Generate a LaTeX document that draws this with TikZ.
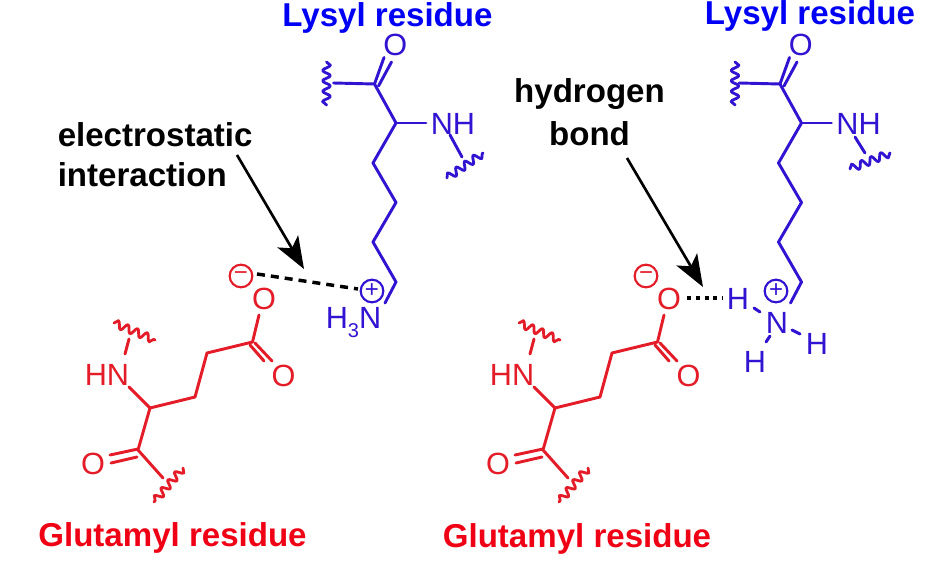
\documentclass[tikz,border=0pt]{standalone}
\usepackage{fontspec}
\setmainfont{Liberation Sans}
\usetikzlibrary{arrows.meta,decorations.pathmorphing}
\definecolor{titleblue}{RGB}{0,0,245}
\definecolor{molblue}{RGB}{48,20,210}
\definecolor{titlered}{RGB}{240,0,20}
\definecolor{molred}{RGB}{228,28,40}
\tikzset{
  title/.style={font=\fontsize{24.8pt}{30pt}\selectfont\bfseries,inner sep=0pt,anchor=center},
  caption/.style={font=\fontsize{24.8pt}{30pt}\selectfont\bfseries,inner sep=0pt,text=black},
  atom/.style={font=\fontsize{23pt}{27pt}\selectfont,inner sep=0pt},
  bond/.style={line width=2.2pt,line cap=round,line join=round},
  wave/.style={line width=2.1pt,line cap=round,line join=round,decorate,decoration={snake,segment length=7.8pt,amplitude=2.9pt}},
  charge/.style={circle,draw,line width=1.6pt,minimum size=17pt,inner sep=0pt,font=\fontsize{18pt}{18pt}\selectfont},
  pointer/.style={line width=2pt,black,-{Stealth[length=24pt,width=18pt,inset=6pt]}},
  contact/.style={line width=2.6pt,black}
}
\newcommand{\lysylchain}[1]{%
\begin{scope}[shift={(#1,0)},molblue]
  \node[atom,text=molblue] (O) at (395.3,44.5) {O};
  \node[atom,text=molblue] (NH) at (453,123.5) {NH};
  \coordinate (C) at (374.5,84);
  \coordinate (CA) at (396,123);
  \coordinate (CB) at (373,163);
  \coordinate (CG) at (396,202.5);
  \coordinate (CD) at (373,242);
  \coordinate (CE) at (396,282);
  \coordinate (NE) at (385,303);
  \coordinate (Cwave) at (333.5,83);
  \coordinate (Oa) at (384,57.5);
  \coordinate (Ob) at (391.5,62);
  \coordinate (Cb) at (378.5,86);
  \coordinate (NHa) at (426,123);
  \draw[bond] (Cwave) -- (C) -- (Oa);
  \draw[bond] (Cb) -- (Ob);
  \draw[bond] (C) -- (CA) -- (CB) -- (CG) -- (CD) -- (CE) -- (NE);
  \draw[bond] (CA) -- (NHa);
\end{scope}}
\newcommand{\glutamylchain}[1]{%
\begin{scope}[shift={(#1,0)},molred]
  \node[atom,text=molred] (OA) at (264,298.5) {O};
  \node[atom,text=molred] (OB) at (283.5,375.5) {O};
  \node[atom,text=molred] (HN) at (107,374.5) {HN};
  \node[atom,text=molred] (OC) at (93,463.5) {O};
  \coordinate (GC) at (252.5,342);
  \coordinate (GB) at (207,353);
  \coordinate (GG) at (195,397);
  \coordinate (GA) at (150,408);
  \coordinate (GK) at (138,450);
  \coordinate (A1) at (259,315);
  \coordinate (B1) at (255,343);
  \coordinate (B2) at (272,361);
  \coordinate (B3) at (250,345);
  \coordinate (B4) at (264,361);
  \coordinate (N1) at (129,387);
  \coordinate (N2) at (125,354);
  \coordinate (N3) at (129,339);
  \coordinate (K1) at (110,455);
  \coordinate (K2) at (111,463);
  \coordinate (K3) at (138,449);
  \coordinate (K4) at (137,457);
  \coordinate (K5) at (163,478);
  \coordinate (W1) at (114,323);
  \coordinate (W2) at (155,340);
  \coordinate (W3) at (183,468);
  \coordinate (W4) at (154,502);
  \draw[bond] (A1) -- (GC) -- (GB) -- (GG) -- (GA) -- (GK) -- (K5);
  \draw[bond] (B1) -- (B2);
  \draw[bond] (B3) -- (B4);
  \draw[bond] (N1) -- (GA);
  \draw[bond] (N2) -- (N3);
  \draw[bond] (K1) -- (K3);
  \draw[bond] (K2) -- (K4);
  \draw[wave] (W1) -- (W2);
  \draw[wave] (W3) -- (W4);
\end{scope}}
\begin{document}
\begin{tikzpicture}[x=0.75pt,y=-0.75pt]
\useasboundingbox (0,0) rectangle (946,578);
\fill[white] (0,0) rectangle (946,578);

% titles
\node[title,text=titleblue] (lysA) at (387.5,17.5) {Lysyl residue};
\node[title,text=titleblue] (lysB) at (810,15.5) {Lysyl residue};
\node[title,text=titlered] (gluA) at (172.5,538) {Glutamyl residue};
\node[title,text=titlered] (gluB) at (577,539) {Glutamyl residue};
\node[caption,anchor=west] (elec) at (57.5,134.5) {electrostatic};
\node[caption,anchor=west] (inter) at (57.5,174.5) {interaction};
\node[caption] (hyd) at (589.5,94.5) {hydrogen};
\node[caption] (bnd) at (589.5,133.5) {bond};

% left pair
\lysylchain{0}
\coordinate (waveA1) at (326.5,62);
\coordinate (waveA2) at (326.5,105);
\coordinate (nwA1) at (450,135);
\coordinate (nwA2) at (462,157);
\coordinate (nwA3) at (447,178);
\coordinate (nwA4) at (483,153);
\draw[wave,molblue] (waveA1) -- (waveA2);
\draw[bond,molblue] (nwA1) -- (nwA2);
\draw[wave,molblue] (nwA3) -- (nwA4);
\node[atom,text=molblue] (hthree) at (353.5,322.5) {H\raisebox{-0.28em}{\fontsize{15pt}{15pt}\selectfont 3}N};
\node[charge,draw=molblue,text=molblue] (plusA) at (372,291) {+};
\glutamylchain{0}
\node[charge,draw=molred,text=molred] (minusA) at (241,276) {−};
\coordinate (dA1) at (257,274);
\coordinate (dA2) at (358,289);
\draw[contact,dash pattern=on 6pt off 4.5pt] (dA1) -- (dA2);
\coordinate (arA) at (304,269);
\coordinate (arA0) at (237,155);
\draw[pointer] (arA0) -- (arA);

% right pair
\lysylchain{405.5}
\coordinate (waveB1) at (735,62);
\coordinate (waveB2) at (735,105);
\coordinate (nwB1) at (855,137);
\coordinate (nwB2) at (865,153);
\coordinate (nwB3) at (850,169);
\coordinate (nwB4) at (890,153);
\draw[wave,molblue] (waveB1) -- (waveB2);
\draw[bond,molblue] (nwB1) -- (nwB2);
\draw[wave,molblue] (nwB3) -- (nwB4);
\node[charge,draw=molblue,text=molblue] (plusB) at (776,291) {+};
\node[atom,text=molblue] (NN) at (777,322.5) {N};
\node[atom,text=molblue] (HL) at (738,298.5) {H};
\node[atom,text=molblue] (HR) at (817,343.5) {H};
\node[atom,text=molblue] (HB) at (755,361.5) {H};
\coordinate (hA) at (754,308);
\coordinate (hB) at (760,312);
\coordinate (hC) at (792,330);
\coordinate (hD) at (800,334);
\coordinate (hE) at (770,336);
\coordinate (hF) at (766,342);
\draw[bond,molblue] (hA) -- (hB);
\draw[bond,molblue] (hC) -- (hD);
\draw[bond,molblue] (hE) -- (hF);
\glutamylchain{405}
\node[charge,draw=molred,text=molred] (minusB) at (646,276) {−};
\coordinate (dB1) at (687,298);
\coordinate (dB2) at (723,298);
\draw[contact,dash pattern=on 3pt off 3.6pt] (dB1) -- (dB2);
\coordinate (arB) at (703,287);
\coordinate (arB0) at (627,158);
\draw[pointer] (arB0) -- (arB);
\end{tikzpicture}
\end{document}
